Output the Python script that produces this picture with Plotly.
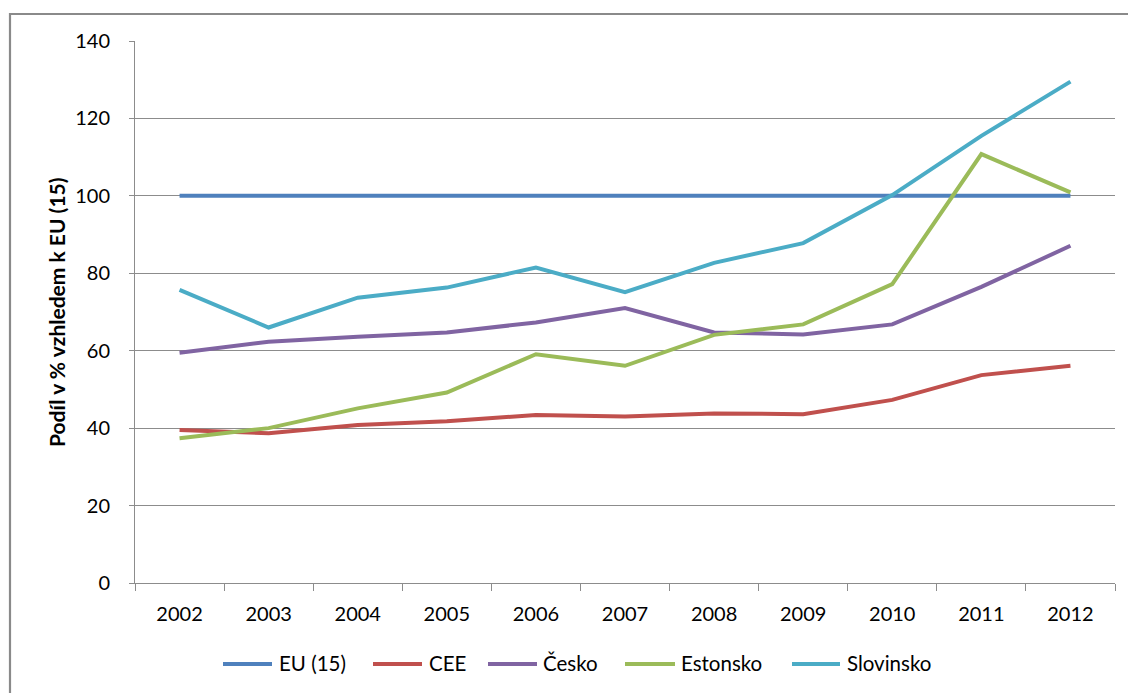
import plotly.graph_objects as go

# Categories and series values (share of EU-15 level, %)
years = ["2002", "2003", "2004", "2005", "2006", "2007", "2008", "2009", "2010", "2011", "2012"]
eu15 = [100, 100, 100, 100, 100, 100, 100, 100, 100, 100, 100]
cee = [39.5, 38.7, 40.8, 41.8, 43.4, 43.0, 43.8, 43.6, 47.3, 53.7, 56.1]
cesko = [59.5, 62.3, 63.6, 64.7, 67.3, 71.0, 64.7, 64.2, 66.8, 76.5, 87.1]
estonsko = [37.4, 40.0, 45.1, 49.2, 59.1, 56.1, 64.1, 66.8, 77.2, 110.8, 100.9]
slovinsko = [75.7, 66.0, 73.7, 76.3, 81.5, 75.1, 82.7, 87.8, 100.2, 115.5, 129.5]

series_names = ["EU (15)", "CEE", "Česko", "Estonsko", "Slovinsko"]
series_values = [eu15, cee, cesko, estonsko, slovinsko]
series_colors = ["#4F81BD", "#C0504D", "#8064A2", "#9BBB59", "#4BACC6"]

y_ticks = [0, 20, 40, 60, 80, 100, 120, 140]
y_title = "Podíl v % vzhledem k EU (15)"

FONT = "Lato"
GRID = "#8C8C8C"
LINE_W = 4

fig = go.Figure()
for name, vals, col in zip(series_names, series_values, series_colors):
    fig.add_trace(go.Scatter(
        x=years, y=vals, name=name, mode="lines",
        line=dict(color=col, width=LINE_W),
        showlegend=False,
    ))

W, H = 1128, 693
ml, mr, mt, mb = 135, 13, 41, 110
pw, ph = W - ml - mr, H - mt - mb


def px_to_paper_x(px):
    return (px - ml) / pw


def px_to_paper_y(py):
    return (H - mb - py) / ph


# Outer chart frame (only top and left edges fall inside the page)
fig.add_shape(
    type="rect", xref="paper", yref="paper",
    x0=px_to_paper_x(10), x1=px_to_paper_x(W + 20),
    y0=px_to_paper_y(H + 20), y1=px_to_paper_y(14),
    line=dict(color="#8A8A8A", width=2.2), fillcolor="rgba(0,0,0,0)",
    layer="below",
)

# Legend row below the category axis: swatch start/end and label start (px)
legend_layout = [(223, 272, 277), (373, 422, 427), (488, 537, 541),
                 (625, 675, 679), (792, 840, 845)]
legend_y = 664
for (x0, x1, xt), name, col in zip(legend_layout, series_names, series_colors):
    fig.add_shape(
        type="line", xref="paper", yref="paper",
        x0=px_to_paper_x(x0), x1=px_to_paper_x(x1),
        y0=px_to_paper_y(legend_y), y1=px_to_paper_y(legend_y),
        line=dict(color=col, width=LINE_W),
    )
    fig.add_annotation(
        xref="paper", yref="paper",
        x=px_to_paper_x(xt), y=px_to_paper_y(legend_y - 1),
        xanchor="left", yanchor="middle", showarrow=False,
        text=name, font=dict(family=FONT, size=20.5, color="#000000"),
    )

# Vertical axis title
fig.add_annotation(
    xref="paper", yref="paper",
    x=px_to_paper_x(56), y=0.5, xanchor="center", yanchor="middle",
    textangle=-90, showarrow=False,
    text="<b>" + y_title + "</b>",
    font=dict(family=FONT, size=21, color="#000000"),
)

fig.update_layout(
    width=W, height=H,
    margin=dict(l=ml, r=mr, t=mt, b=mb, pad=0),
    paper_bgcolor="white", plot_bgcolor="white",
    font=dict(family=FONT, size=20, color="#000000"),
    showlegend=False,
    xaxis=dict(
        type="category", categoryorder="array", categoryarray=years,
        range=[-0.5, len(years) - 0.5],
        showgrid=False, zeroline=False,
        showline=True, linecolor=GRID, linewidth=1,
        ticks="outside", tickson="boundaries", ticklen=7, tickcolor=GRID,
        ticklabelstandoff=13, automargin=False,
        tickfont=dict(family=FONT, size=20, color="#000000"),
    ),
    yaxis=dict(
        range=[0, 140], tickvals=y_ticks,
        showgrid=True, gridcolor=GRID, gridwidth=1,
        zeroline=False,
        showline=True, linecolor=GRID, linewidth=1,
        ticks="outside", ticklen=5, tickcolor=GRID,
        ticklabelstandoff=15, automargin=False,
        tickfont=dict(family=FONT, size=20, color="#000000"),
    ),
)

fig.write_html("out.html")
